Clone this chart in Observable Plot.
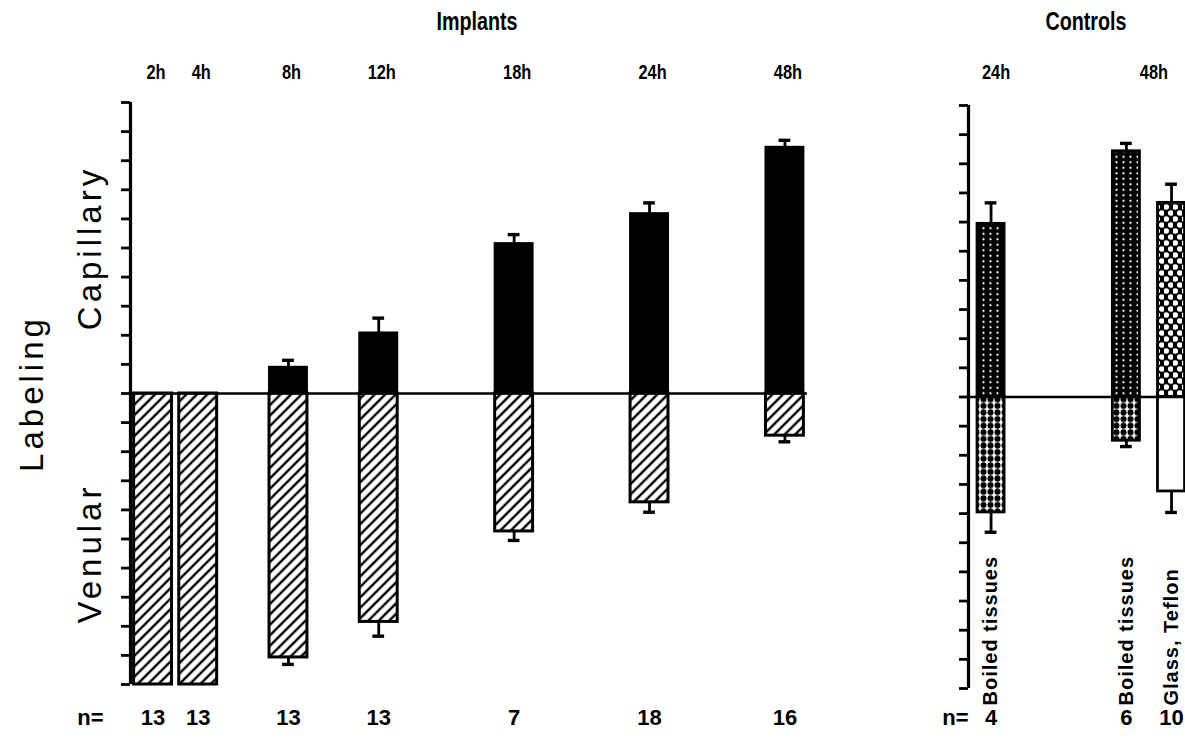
<!DOCTYPE html>
<html>
<head>
<meta charset="utf-8">
<script src="https://cdn.jsdelivr.net/npm/d3@7"></script>
<script src="https://cdn.jsdelivr.net/npm/@observablehq/plot@0.6"></script>
<style>
  html, body { margin: 0; padding: 0; background: white; }
  #chart { position: relative; width: 1185px; height: 753px; overflow: hidden; background: white; }
  #chart svg { position: absolute; top: 0; }
</style>
</head>
<body>
<div id="chart"></div>
<script>
// ---------- DATA (y in axis-tick units) ----------
const implantTimes        = ["2h", "4h", "8h", "12h", "18h", "24h", "48h"];
const implantCapillary    = [0, 0, 0.9, 2.08, 5.15, 6.18, 8.46];
const implantCapillaryErr = [0, 0, 0.24, 0.51, 0.31, 0.37, 0.24];
const implantVenular      = [10, 10, 9.07, 7.85, 4.74, 3.74, 1.45];
const implantVenularErr   = [0, 0, 0.24, 0.49, 0.31, 0.34, 0.21];
const implantN            = [13, 13, 13, 13, 7, 18, 16];

const controlTimes        = ["24h", "48h", "48h"];
const controlMaterials    = ["Boiled tissues", "Boiled tissues", "Glass, Teflon"];
const controlCapillary    = [5.94, 8.43, 6.66];
const controlCapillaryErr = [0.72, 0.27, 0.64];
const controlVenular      = [3.96, 1.5, 3.24];
const controlVenularErr   = [0.68, 0.2, 0.72];
const controlN            = [4, 6, 10];

const panelTitles = ["Implants", "Controls"];

// ---------- LAYOUT (slot positions on the x scale) & STYLES ----------
const implantSlots = [0, 1, 3, 5, 8, 11, 14];
const controlSlots = [0, 3, 4];
const capFill = {"Boiled tissues": "url(#dotsWhiteSmall)", "Glass, Teflon": "url(#dotsWhiteLarge)"};
const venFill = {"Boiled tissues": "url(#dotsBlack)", "Glass, Teflon": "white"};
const FONT = "'Liberation Sans', Arial, Helvetica, sans-serif";

const implants = implantTimes.map((t, i) => ({
  time: t, slot: implantSlots[i],
  cap: implantCapillary[i], capTop: implantCapillary[i] + implantCapillaryErr[i], capErr: implantCapillaryErr[i],
  ven: -implantVenular[i], venBot: -implantVenular[i] - implantVenularErr[i], venErr: implantVenularErr[i],
  n: implantN[i]
}));
const controls = controlTimes.map((t, i) => ({
  time: t, material: controlMaterials[i], slot: controlSlots[i],
  cap: controlCapillary[i], capTop: controlCapillary[i] + controlCapillaryErr[i], capErr: controlCapillaryErr[i],
  ven: -controlVenular[i], venBot: -controlVenular[i] - controlVenularErr[i], venErr: controlVenularErr[i],
  n: controlN[i]
}));
const controlTimeLabels = Array.from(d3.group(controls, d => d.time), ([time, rows]) => ({time, slot: d3.mean(rows, d => d.slot)}));

function errorMarks(rows, capHalf) {
  const up = rows.filter(d => d.capErr > 0);
  const dn = rows.filter(d => d.venErr > 0);
  return [
    Plot.ruleX(up, {x: "slot", y1: "cap", y2: "capTop", strokeWidth: 2.8}),
    Plot.ruleY(up, {y: "capTop", x1: d => d.slot - capHalf, x2: d => d.slot + capHalf, strokeWidth: 3.4}),
    Plot.ruleX(dn, {x: "slot", y1: "ven", y2: "venBot", strokeWidth: 2.8}),
    Plot.ruleY(dn, {y: "venBot", x1: d => d.slot - capHalf, x2: d => d.slot + capHalf, strokeWidth: 3.4})
  ];
}

const common = {
  height: 753,
  y: {domain: [-10, 10]},
  style: {fontFamily: FONT, background: "white", overflow: "visible", color: "black"}
};
const yTicks = d3.range(-10, 11);

// ---------- LEFT PANEL: Implants ----------
const half = 0.42;
const left = Plot.plot({
  ...common,
  width: 840, marginLeft: 130, marginRight: 33, marginTop: 102, marginBottom: 69,
  x: {domain: [-0.5, 14.5], axis: null},
  marks: [
    Plot.rect(implants.filter(d => d.cap > 0), {x1: d => d.slot - half, x2: d => d.slot + half, y1: () => 0, y2: "cap", fill: "black", stroke: "black", strokeWidth: 2}),
    Plot.rect(implants, {x1: d => d.slot - half, x2: d => d.slot + half, y1: () => 0, y2: "ven", fill: "url(#hatch)", stroke: "black", strokeWidth: 3}),
    ...errorMarks(implants, 0.13),
    Plot.ruleY([0], {strokeWidth: 2.6}),
    Plot.ruleX([-0.5], {y1: -10, y2: 10, strokeWidth: 3.2}),
    Plot.axisY(yTicks, {anchor: "left", tickSize: 9, strokeWidth: 2.8, tickFormat: () => "", label: null}),
    Plot.text([panelTitles[0]], {text: d => d, frameAnchor: "top", lineAnchor: "middle", dx: 8, dy: -81, fontSize: 26, fontWeight: "bold"}),
    Plot.text(implants, {x: "slot", y: () => 10, text: "time", dx: 3, dy: -30, fontSize: 21, fontWeight: "bold"}),
    Plot.text(implants, {x: "slot", y: () => -10, text: d => String(d.n), dy: 33, fontSize: 22, fontWeight: "bold"}),
    Plot.text(["n="], {text: d => d, frameAnchor: "bottom-left", textAnchor: "middle", lineAnchor: "middle", dx: -40, dy: 33, fontSize: 22, fontWeight: "bold"}),
    Plot.text(["Labeling"], {text: d => d, frameAnchor: "left", textAnchor: "middle", y: () => 0, rotate: -90, dx: -98, fontSize: 33}),
    Plot.text(["Capillary"], {text: d => d, frameAnchor: "left", textAnchor: "middle", y: () => 5, rotate: -90, dx: -40, fontSize: 33}),
    Plot.text(["Venular"], {text: d => d, frameAnchor: "left", textAnchor: "middle", y: () => -5.5, rotate: -90, dx: -40, fontSize: 33})
  ]
});

// ---------- RIGHT PANEL: Controls ----------
const halfC = 0.3;
const right = Plot.plot({
  ...common,
  width: 345, marginLeft: 128, marginRight: 0, marginTop: 105, marginBottom: 65,
  x: {domain: [-0.5, 4.31], axis: null},
  marks: [
    Plot.rect(controls, {x1: d => d.slot - halfC, x2: d => d.slot + halfC, y1: () => 0, y2: "cap", fill: d => capFill[d.material], stroke: "black", strokeWidth: 2.8}),
    Plot.rect(controls, {x1: d => d.slot - halfC, x2: d => d.slot + halfC, y1: () => 0, y2: "ven", fill: d => venFill[d.material], stroke: "black", strokeWidth: 2.8}),
    ...errorMarks(controls, 0.13),
    Plot.ruleY([0], {strokeWidth: 2.6}),
    Plot.ruleX([-0.5], {y1: -10, y2: 10, strokeWidth: 3.2}),
    Plot.axisY(yTicks, {anchor: "left", tickSize: 9, strokeWidth: 2.8, tickFormat: () => "", label: null}),
    Plot.text([panelTitles[1]], {text: d => d, frameAnchor: "top", lineAnchor: "middle", dx: 9, dy: -84, fontSize: 26, fontWeight: "bold"}),
    Plot.text(controlTimeLabels, {x: "slot", y: () => 10, text: "time", dx: 5, dy: -33, fontSize: 21, fontWeight: "bold"}),
    Plot.text(controls, {x: "slot", y: () => -10, text: d => String(d.n), dy: 29, fontSize: 22, fontWeight: "bold"}),
    Plot.text(["n="], {text: d => d, frameAnchor: "bottom-left", textAnchor: "middle", lineAnchor: "middle", dx: -13, dy: 29, fontSize: 22, fontWeight: "bold"}),
    Plot.text(controls, {x: "slot", y: () => -10, text: "material", rotate: -90, textAnchor: "start", dy: 17, fontSize: 20, fontWeight: "bold"})
  ]
});

// ---------- Fill patterns ----------
const patterns = `
  <pattern id="hatch" patternUnits="userSpaceOnUse" width="7.4" height="7.4" patternTransform="rotate(45)">
    <rect width="7.4" height="7.4" fill="white"/>
    <line x1="3.7" y1="-1" x2="3.7" y2="8.4" stroke="black" stroke-width="2.4"/>
  </pattern>
  <pattern id="dotsWhiteSmall" patternUnits="userSpaceOnUse" width="7" height="5.5">
    <rect width="7" height="5.5" fill="black"/>
    <circle cx="3.5" cy="2.75" r="1.1" fill="white"/>
  </pattern>
  <pattern id="dotsBlack" patternUnits="userSpaceOnUse" width="7" height="6.6">
    <rect width="7" height="6.6" fill="white"/>
    <circle cx="3.5" cy="3.3" r="3" fill="black"/>
  </pattern>
  <pattern id="dotsWhiteLarge" patternUnits="userSpaceOnUse" width="9" height="12">
    <rect width="9" height="12" fill="black"/>
    <circle cx="2.25" cy="3" r="2.8" fill="white"/>
    <circle cx="6.75" cy="9" r="2.8" fill="white"/>
  </pattern>`;
const defs = document.createElementNS("http://www.w3.org/2000/svg", "defs");
defs.innerHTML = patterns;
left.insertBefore(defs, left.firstChild);

// letter spacing for spaced-out labels; horizontal condensing for the bold headings
const spacing = {"Labeling": "4px", "Capillary": "4px", "Venular": "4px", "Boiled tissues": "1px", "Glass, Teflon": "1px"};
const titleSet = new Set(panelTitles);
const timeSet = new Set([...implantTimes, ...controlTimes]);
for (const svg of [left, right]) {
  d3.select(svg).selectAll("text").each(function () {
    const t = this.textContent;
    if (spacing[t]) this.style.letterSpacing = spacing[t];
    const s = titleSet.has(t) ? 0.76 : timeSet.has(t) ? 0.78 : null;
    if (s) {
      const tr = this.getAttribute("transform") || "";
      this.setAttribute("transform", tr + ` scale(${s},1)`);
    }
  });
}

left.style.left = "0px";
right.style.left = "840px";
const chart = document.getElementById("chart");
chart.appendChild(left);
chart.appendChild(right);
</script>
</body>
</html>
